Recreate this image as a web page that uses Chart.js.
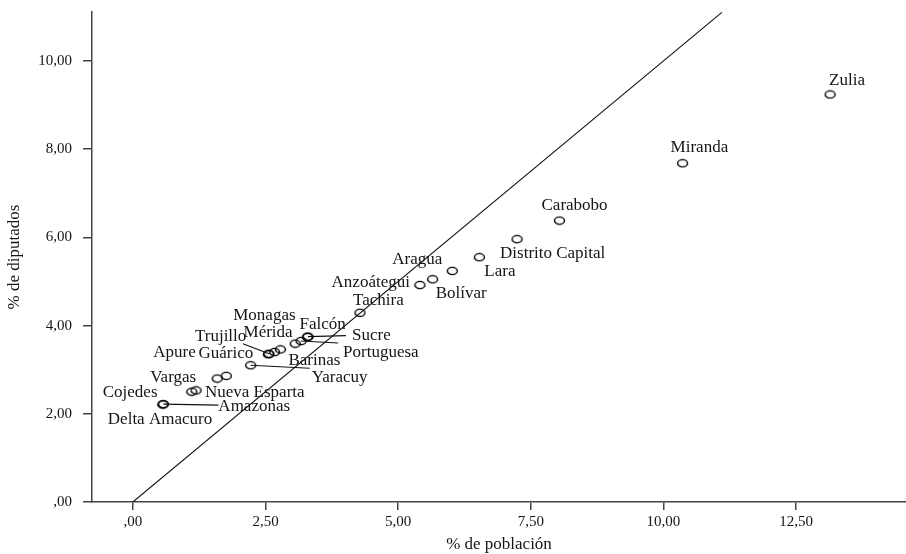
<!DOCTYPE html>
<html>
<head>
<meta charset="utf-8">
<script src="https://cdn.jsdelivr.net/npm/chart.js@4.4.1/dist/chart.umd.min.js"></script>
<style>
  html, body { margin: 0; padding: 0; background: #fff; }
  #wrap { width: 906px; height: 554px; }
</style>
</head>
<body>
<div id="wrap"><canvas id="chart" width="906" height="554"></canvas></div>
<script>
/* --------- datos --------- */
const estados = [
  "Zulia", "Miranda", "Carabobo", "Distrito Capital", "Lara", "Aragua",
  "Bolívar", "Anzoátegui", "Tachira", "Monagas", "Falcón", "Sucre",
  "Portuguesa", "Mérida", "Trujillo", "Guárico", "Apure", "Barinas",
  "Yaracuy", "Vargas", "Cojedes", "Nueva Esparta", "Amazonas", "Delta Amacuro",
];

// % de población
const poblacion = [
  13.14, 10.36, 8.04, 7.24, 6.53, 6.02,
  5.65, 5.41, 4.28, 3.06, 3.29, 3.30,
  3.17, 2.67, 2.565, 2.555, 1.76, 2.78,
  2.22, 1.59, 1.11, 1.19, 0.575, 0.565,
];

// % de diputados
const diputados = [
  9.24, 7.68, 6.38, 5.96, 5.55, 5.24,
  5.05, 4.92, 4.29, 3.59, 3.74, 3.75,
  3.65, 3.40, 3.36, 3.35, 2.86, 3.46,
  3.10, 2.80, 2.50, 2.53, 2.22, 2.21,
];

// recta de referencia (y = x)
const rectaX = [0, 11.1];
const rectaY = [0, 11.1];

const xTicks = [0, 2.5, 5, 7.5, 10, 12.5];
const xTickLabels = [",00", "2,50", "5,00", "7,50", "10,00", "12,50"];
const yTicks = [0, 2, 4, 6, 8, 10];
const yTickLabels = [",00", "2,00", "4,00", "6,00", "8,00", "10,00"];

/* --------- posición de etiquetas (px respecto al punto) --------- */
// [dx, dy, alineación, guía(dx,dy) o null]
const etiquetas = {
  "Zulia": [-1, -14, "left", null],
  "Miranda": [-12, -16, "left", null],
  "Carabobo": [-18, -15, "left", null],
  "Distrito Capital": [-17, 14, "left", null],
  "Lara": [5, 14, "left", null],
  "Aragua": [-60, -11, "left", null],
  "Bolívar": [3, 14, "left", null],
  "Anzoátegui": [-10, -2, "right", null],
  "Tachira": [-7, -12, "left", null],
  "Monagas": [-62, -28, "left", null],
  "Falcón": [-8, -13, "left", null],
  "Sucre": [44, -1, "left", [38, -1]],
  "Portuguesa": [42, 12, "left", [37, 2]],
  "Mérida": [-31, -20, "left", null],
  "Trujillo": [-74, -17, "left", [-26, -10]],
  "Guárico": [-70, -1, "left", null],
  "Apure": [-73, -23, "left", null],
  "Barinas": [8, 11, "left", null],
  "Yaracuy": [61, 12, "left", [59, 3]],
  "Vargas": [-67, -1, "left", null],
  "Cojedes": [-89, 1, "left", null],
  "Nueva Esparta": [9, 2, "left", null],
  "Amazonas": [55, 2, "left", [55, 1]],
  "Delta Amacuro": [-55, 15, "left", null],
};

const fuente = '"Liberation Serif", "Times New Roman", serif';
const colorTexto = "#151515";
const colorEje = "#444";

/* --------- marcador elíptico --------- */
function makeMarker() {
  const c = document.createElement("canvas");
  c.width = 13;
  c.height = 10;
  const ctx = c.getContext("2d");
  ctx.strokeStyle = "#000";
  ctx.lineWidth = 1.4;
  ctx.beginPath();
  ctx.ellipse(6.5, 5, 5, 3.6, 0, 0, Math.PI * 2);
  ctx.stroke();
  return c;
}

/* --------- plugin de etiquetas --------- */
const labelPlugin = {
  id: "labels",
  afterDatasetsDraw(chart) {
    const meta = chart.getDatasetMeta(0);
    const ctx = chart.ctx;
    ctx.save();
    ctx.font = "17px " + fuente;
    ctx.fillStyle = colorTexto;
    ctx.strokeStyle = "#111";
    ctx.lineWidth = 1.1;
    ctx.textBaseline = "middle";
    meta.data.forEach((pt, i) => {
      const name = estados[i];
      const [dx, dy, align, guia] = etiquetas[name];
      if (guia) {
        ctx.beginPath();
        ctx.moveTo(pt.x, pt.y);
        ctx.lineTo(pt.x + guia[0], pt.y + guia[1]);
        ctx.stroke();
      }
      ctx.textAlign = align;
      ctx.fillText(name, pt.x + dx, pt.y + dy);
    });
    ctx.restore();
  },
};

/* --------- gráfico --------- */
const puntos = poblacion.map((x, i) => ({ x, y: diputados[i] }));
const recta = rectaX.map((x, i) => ({ x, y: rectaY[i] }));

new Chart(document.getElementById("chart"), {
  type: "scatter",
  data: {
    datasets: [
      {
        label: "estados",
        data: puntos,
        pointStyle: makeMarker(),
        pointRadius: 5,
        pointHoverRadius: 5,
      },
      {
        type: "line",
        label: "recta",
        data: recta,
        borderColor: "#111",
        borderWidth: 1.1,
        pointRadius: 0,
        fill: false,
      },
    ],
  },
  options: {
    responsive: false,
    animation: false,
    layout: { autoPadding: false, padding: { top: 12, right: 0, left: 0, bottom: 0 } },
    plugins: {
      legend: { display: false },
      tooltip: { enabled: false },
    },
    scales: {
      x: {
        type: "linear",
        min: -0.77,
        max: 14.57,
        afterBuildTicks: (s) => { s.ticks = xTicks.map((v) => ({ value: v })); },
        afterFit: (s) => {
          s.height = 52;
          s.paddingLeft = 0;
          s.paddingRight = 0;
        },
        ticks: {
          callback: (v) => xTickLabels[xTicks.indexOf(v)],
          font: { family: fuente, size: 15 },
          color: colorTexto,
          padding: 3,
          maxRotation: 0,
        },
        grid: { drawOnChartArea: false, drawTicks: true, tickLength: 8, color: colorEje, lineWidth: 1.5 },
        border: { display: true, color: colorEje, width: 1.5 },
        title: {
          display: true,
          text: "% de población",
          font: { family: fuente, size: 17, lineHeight: 1.15 },
          color: colorTexto,
          padding: { top: 0, bottom: 0 },
        },
      },
      y: {
        type: "linear",
        min: 0,
        max: 11.11,
        afterBuildTicks: (s) => { s.ticks = yTicks.map((v) => ({ value: v })); },
        afterFit: (s) => {
          s.width = 92;
          s.paddingTop = 0;
          s.paddingBottom = 0;
        },
        ticks: {
          callback: (v) => yTickLabels[yTicks.indexOf(v)],
          font: { family: fuente, size: 15 },
          color: colorTexto,
          padding: 11,
        },
        grid: { drawOnChartArea: false, drawTicks: true, tickLength: 9, color: colorEje, lineWidth: 1.5 },
        border: { display: true, color: colorEje, width: 1.5 },
        title: {
          display: true,
          text: "% de diputados",
          font: { family: fuente, size: 17, lineHeight: 1.75 },
          color: colorTexto,
          padding: { top: 0, bottom: 0 },
        },
      },
    },
  },
  plugins: [labelPlugin],
});
</script>
</body>
</html>
